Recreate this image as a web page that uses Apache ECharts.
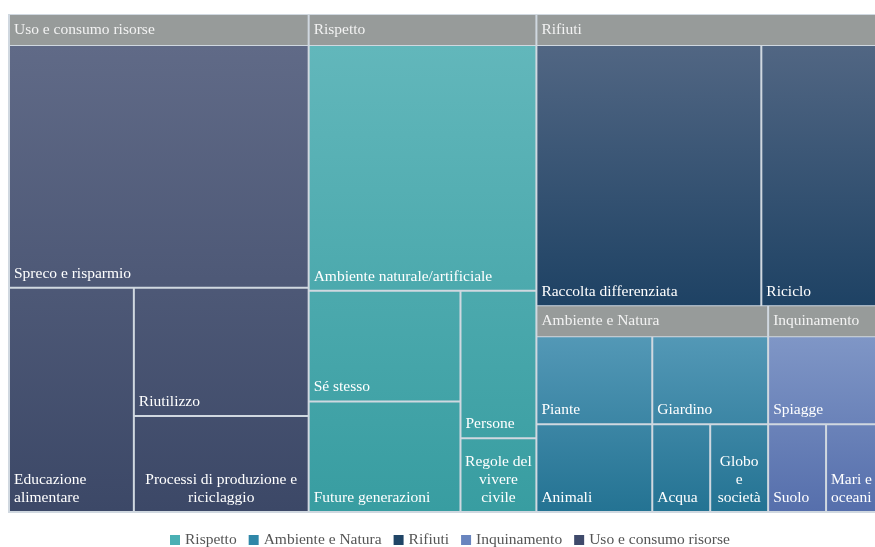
<!DOCTYPE html>
<html>
<head>
<meta charset="utf-8">
<title>Temi</title>
<script src="https://cdn.jsdelivr.net/npm/echarts@6/dist/echarts.min.js"></script>
<style>
  html, body { margin: 0; padding: 0; background: #ffffff; }
  #chart { width: 875px; height: 547px; }
</style>
</head>
<body>
<div id="chart"></div>
<script>
// Topic groups and their sub-topics (counts).
// Equal counts are laid out in reverse data order by the treemap sort.
const groupNames = ['Uso e consumo risorse', 'Rispetto', 'Rifiuti', 'Ambiente e Natura', 'Inquinamento'];

const usoLabels = ['Spreco e risparmio', 'Educazione alimentare', 'Riutilizzo', 'Processi di produzione e riciclaggio'];
const usoValues = [13, 5, 4, 3];

const rispettoLabels = ['Ambiente naturale/artificiale', 'Future generazioni', 'Sé stesso', 'Persone', 'Regole del vivere civile'];
const rispettoValues = [10, 3, 3, 2, 1];

const rifiutiLabels = ['Raccolta differenziata', 'Riciclo'];
const rifiutiValues = [11, 6];

const ambienteLabels = ['Giardino', 'Animali', 'Piante', 'Globo e società', 'Acqua'];
const ambienteValues = [2, 2, 2, 1, 1];

const inquinamentoLabels = ['Spiagge', 'Mari e oceani', 'Suolo'];
const inquinamentoValues = [2, 1, 1];

const legendNames = ['Rispetto', 'Ambiente e Natura', 'Rifiuti', 'Inquinamento', 'Uso e consumo risorse'];

// Label texts broken over several lines
const labelBreaks = {
  'Educazione alimentare': 'Educazione\nalimentare',
  'Processi di produzione e riciclaggio': 'Processi di produzione e\nriciclaggio',
  'Regole del vivere civile': 'Regole del\nvivere\ncivile',
  'Globo e società': 'Globo\ne\nsocietà',
  'Mari e oceani': 'Mari e\noceani'
};
const centredLabels = ['Processi di produzione e riciclaggio', 'Regole del vivere civile', 'Globo e società'];

const groupLeaves = [
  { labels: usoLabels, values: usoValues },
  { labels: rispettoLabels, values: rispettoValues },
  { labels: rifiutiLabels, values: rifiutiValues },
  { labels: ambienteLabels, values: ambienteValues },
  { labels: inquinamentoLabels, values: inquinamentoValues }
];

// Colours: gradient ends for each group plus the legend swatch colour
const palette = {
  'Uso e consumo risorse': { top: '#606A87', bottom: '#3C4867', key: '#3F4A6B' },
  'Rispetto':              { top: '#62B7BB', bottom: '#389DA1', key: '#4AB0B4' },
  'Rifiuti':               { top: '#516683', bottom: '#1E4264', key: '#204566' },
  'Ambiente e Natura':     { top: '#5398B6', bottom: '#247393', key: '#2F87A8' },
  'Inquinamento':          { top: '#7F96C6', bottom: '#566FAC', key: '#6985BF' }
};

const FONT = '"Liberation Serif", "Times New Roman", serif';
const FONT_SIZE = 15.5;
const LINE = '#D0D8E0';
const HEADER = '#979B9A';

function buildData(fillFor) {
  return groupNames.map((g, gi) => ({
    name: g,
    itemStyle: { color: palette[g].key },
    children: groupLeaves[gi].labels.map((n, i) => {
      const item = {
        name: n,
        value: groupLeaves[gi].values[i],
        itemStyle: { color: fillFor(g, n) }
      };
      if (centredLabels.includes(n)) {
        item.label = { position: 'insideBottom' };
      }
      return item;
    })
  }));
}

const chart = echarts.init(document.getElementById('chart'), null, { renderer: 'canvas' });

const option = {
  backgroundColor: '#ffffff',
  animation: false,
  grid: { left: 0, top: 0, width: 1, height: 1, show: false },
  xAxis: { type: 'category', show: false, data: [] },
  yAxis: { type: 'value', show: false },
  legend: {
    data: legendNames,
    left: 170,
    top: 532,
    padding: 0,
    icon: 'rect',
    itemWidth: 10,
    itemHeight: 10,
    itemGap: 12,
    textStyle: { fontFamily: FONT, fontSize: FONT_SIZE, color: '#555555', lineHeight: 16 },
    selectedMode: false
  },
  series: [
    {
      id: 'temi',
      type: 'treemap',
      left: 8,
      top: 14,
      width: 877,
      height: 499,
      roam: false,
      nodeClick: false,
      drillDownIcon: '',
      squareRatio: 0.8,
      breadcrumb: { show: false },
      upperLabel: { show: false },
      levels: [
        {
          itemStyle: { borderWidth: 2, gapWidth: 2, borderColor: LINE }
        },
        {
          itemStyle: { borderWidth: 0, gapWidth: 2, borderColor: LINE },
          upperLabel: {
            show: true,
            height: 30,
            color: '#F2F2F2',
            fontFamily: FONT,
            fontSize: FONT_SIZE,
            backgroundColor: HEADER,
            padding: [2, 4, 0, 4],
            offset: [0, -1]
          }
        },
        {
          itemStyle: { borderWidth: 0, gapWidth: 0, borderColor: LINE },
          label: {
            show: true,
            position: 'insideBottomLeft',
            distance: 0,
            padding: [4, 4, 4, 4],
            color: '#FFFFFF',
            fontFamily: FONT,
            fontSize: FONT_SIZE,
            lineHeight: 18,
            overflow: 'none',
            formatter: p => labelBreaks[p.name] || p.name
          }
        }
      ],
      data: buildData(g => palette[g].key)
    }
  ].concat(legendNames.map(n => ({
    type: 'line',
    name: n,
    data: [],
    itemStyle: { color: palette[n].key },
    lineStyle: { color: palette[n].key }
  })))
};

chart.setOption(option);

// Spread each group's vertical gradient over its whole content area,
// using the tile positions computed by the treemap layout.
const spans = {};
const tree = chart.getModel().getSeriesByType('treemap')[0].getData().tree;
tree.root.children.forEach(group => {
  const gl = group.getLayout();
  const start = gl.upperHeight || 0;
  group.children.forEach(leaf => {
    const l = leaf.getLayout();
    spans[leaf.name] = {
      y: (start - l.y) / l.height,
      y2: (gl.height - l.y) / l.height
    };
  });
});

chart.setOption({
  series: [{
    id: 'temi',
    data: buildData((g, n) => ({
      type: 'linear',
      x: 0, y: spans[n].y, x2: 0, y2: spans[n].y2,
      colorStops: [
        { offset: 0, color: palette[g].top },
        { offset: 1, color: palette[g].bottom }
      ]
    }))
  }]
});
</script>
</body>
</html>
